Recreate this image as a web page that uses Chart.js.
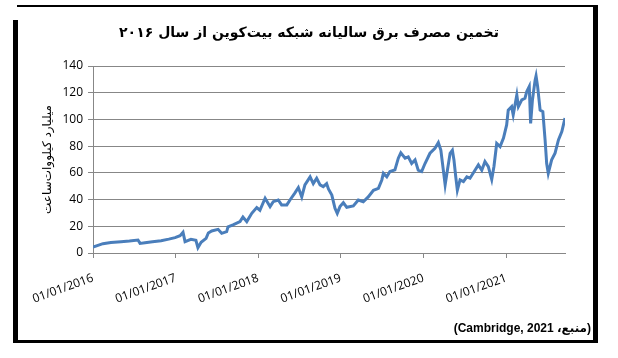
<!DOCTYPE html>
<html>
<head>
<meta charset="utf-8">
<script src="https://cdn.jsdelivr.net/npm/chart.js@4.4.1/dist/chart.umd.min.js"></script>
<style>
  html, body { margin: 0; padding: 0; background: #fff; }
  canvas { display: block; }
</style>
</head>
<body>
<canvas id="chart" width="618" height="358"></canvas>
<script>
// data (billion kWh, annualised)
const dates = [
  '2016-01-01','2016-02-14','2016-03-20','2016-05-04','2016-06-10','2016-07-18','2016-07-27','2016-08-18',
  '2016-09-20','2016-10-28','2016-12-01','2016-12-29','2017-01-20','2017-02-02','2017-02-11','2017-03-09',
  '2017-03-31','2017-04-09','2017-04-23','2017-05-15','2017-05-25','2017-06-09','2017-07-07','2017-07-23',
  '2017-08-14','2017-08-20','2017-09-11','2017-10-12','2017-10-25','2017-11-11','2017-12-03','2017-12-25',
  '2018-01-08','2018-01-31','2018-02-22','2018-03-08','2018-03-30','2018-04-14','2018-05-07','2018-05-21',
  '2018-06-12','2018-06-27','2018-07-12','2018-07-26','2018-08-18','2018-09-01','2018-09-16','2018-10-01',
  '2018-10-15','2018-10-30','2018-11-07','2018-11-22','2018-12-06','2018-12-16','2018-12-28','2019-01-12',
  '2019-01-27','2019-02-25','2019-03-19','2019-04-10','2019-05-02','2019-05-25','2019-06-16','2019-07-01',
  '2019-07-08','2019-07-23','2019-08-06','2019-08-28','2019-09-12','2019-09-23','2019-10-12','2019-10-26',
  '2019-11-10','2019-11-25','2019-12-09','2019-12-24','2020-01-08','2020-01-30','2020-02-21','2020-03-07',
  '2020-03-18','2020-03-29','2020-04-06','2020-04-16','2020-04-28','2020-05-08','2020-05-15','2020-05-23',
  '2020-05-30','2020-06-11','2020-06-26','2020-07-11','2020-07-25','2020-08-16','2020-08-31','2020-09-15',
  '2020-09-29','2020-10-14','2020-10-29','2020-11-08','2020-11-20','2020-12-05','2020-12-20','2021-01-03',
  '2021-01-10','2021-01-25','2021-02-01','2021-02-17','2021-02-24','2021-03-11','2021-03-25','2021-04-02',
  '2021-04-13','2021-04-19','2021-04-27','2021-05-09','2021-05-13','2021-05-20','2021-05-31','2021-06-12',
  '2021-06-22','2021-06-29','2021-07-06','2021-07-21','2021-08-05','2021-08-20','2021-09-04','2021-09-18'
];
const energy = [
  4.5, 7.0, 7.8, 8.5, 9.0, 9.7, 7.2, 7.7,
  8.4, 9.2, 10.4, 11.5, 13.0, 15.5, 8.5, 10.2,
  9.5, 4.0, 8.0, 11.0, 15.0, 16.5, 17.7, 14.7,
  16.0, 19.5, 21.0, 23.5, 27.0, 23.5, 29.7, 34.0,
  32.0, 41.0, 34.7, 38.4, 39.7, 36.0, 36.0, 39.7,
  45.0, 49.0, 42.0, 51.0, 57.0, 52.0, 56.0, 51.0,
  49.7, 52.0, 48.0, 43.4, 33.5, 29.7, 34.7, 37.7,
  34.2, 35.2, 39.7, 38.4, 42.0, 47.0, 48.4, 54.7,
  59.7, 57.0, 61.0, 62.2, 71.0, 75.0, 71.0, 72.0,
  67.0, 69.7, 62.0, 61.0, 67.0, 74.7, 78.4, 82.6,
  77.0, 62.0, 51.0, 62.0, 74.7, 77.0, 69.7, 57.0,
  47.0, 54.7, 53.4, 57.0, 56.0, 62.0, 66.0, 62.0,
  68.4, 64.6, 55.0, 65.0, 82.0, 79.6, 86.0, 95.9,
  107.0, 109.6, 103.4, 118.3, 109.6, 114.6, 115.9, 120.8,
  124.6, 97.0, 114.6, 129.6, 132.6, 124.6, 107.0, 105.8,
  84.6, 67.0, 59.7, 69.7, 74.7, 84.6, 90.9, 101.0
];
const tickYears = [2016, 2017, 2018, 2019, 2020, 2021];

const titleText = 'تخمین مصرف برق سالیانه شبکه بیت‌کوین از سال ۲۰۱۶';
const yTitleText = 'میلیارد کیلووات‌ساعت';
const sourceText = '(منبع، Cambridge, 2021)';

const gridColor = '#878787';
const lineColor = '#4a7ebb';
const tickFont = { family: '"Open Sans", "Liberation Sans", sans-serif', size: 12 };

const points = dates.map((d, i) => ({ x: Date.parse(d), y: energy[i] }));

// frame round the figure, title on top, source note at the bottom
const framePlugin = {
  id: 'frame',
  afterDraw(chart) {
    const ctx = chart.ctx;
    ctx.save();
    ctx.fillStyle = '#000';
    ctx.fillRect(17, 5, 581, 2);   // top
    ctx.fillRect(13, 20, 5, 323);  // left
    ctx.fillRect(593, 5, 5, 338);  // right
    ctx.fillRect(13, 340, 585, 3); // bottom

    ctx.direction = 'rtl';
    ctx.textBaseline = 'middle';

    ctx.textAlign = 'center';
    ctx.font = 'bold 14px "DejaVu Sans", sans-serif';
    ctx.fillText(titleText, 309, 33);

    ctx.textAlign = 'right';
    ctx.font = 'bold 12px "Liberation Sans", "DejaVu Sans", sans-serif';
    ctx.fillText(sourceText, 591, 329);
    ctx.restore();
  }
};

const config = {
  type: 'line',
  data: {
    datasets: [{
      data: points,
      borderColor: lineColor,
      borderWidth: 3,
      pointRadius: 0,
      tension: 0,
      fill: false
    }]
  },
  options: {
    responsive: false,
    animation: false,
    events: [],
    layout: { padding: { left: 0, top: 66, right: 53, bottom: 0 } },
    plugins: {
      legend: { display: false },
      tooltip: { enabled: false },
      title: { display: false }
    },
    scales: {
      x: {
        type: 'linear',
        min: Date.parse(dates[0]),
        max: Date.parse(dates[dates.length - 1]),
        afterBuildTicks: (scale) => {
          scale.ticks = tickYears.map(y => ({ value: Date.UTC(y, 0, 1) }));
        },
        afterFit: (scale) => { scale.height = 105; },
        ticks: {
          minRotation: 20,
          maxRotation: 20,
          padding: 13,
          color: '#000',
          font: tickFont,
          callback: (v) => '01/01/' + new Date(v).getUTCFullYear()
        },
        grid: { drawOnChartArea: false, drawTicks: true, tickLength: 5, color: gridColor },
        border: { display: true, color: gridColor, width: 1 }
      },
      y: {
        min: 0,
        max: 140,
        afterFit: (scale) => { scale.width = 93; },
        ticks: { stepSize: 20, padding: 5, color: '#000', font: tickFont },
        grid: { color: gridColor, tickLength: 5, lineWidth: 1 },
        border: { display: true, color: gridColor, width: 1 },
        title: {
          display: true,
          text: yTitleText,
          color: '#000',
          font: { family: '"DejaVu Sans", sans-serif', size: 12 },
          padding: { top: 41, bottom: 0 }
        }
      }
    }
  },
  plugins: [framePlugin]
};

new Chart(document.getElementById('chart').getContext('2d'), config);
</script>
</body>
</html>
